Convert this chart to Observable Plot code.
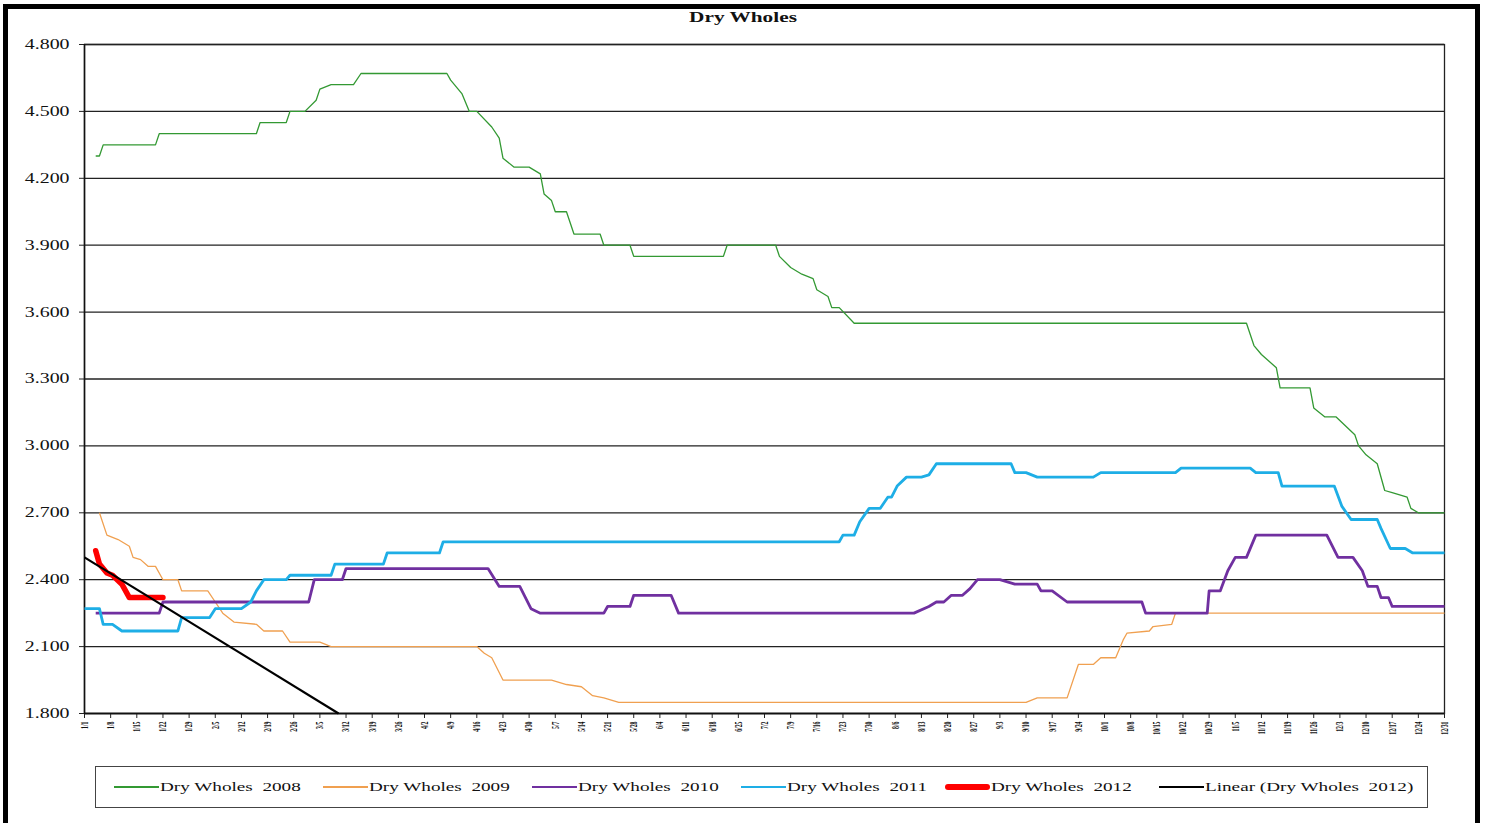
<!DOCTYPE html>
<html>
<head>
<meta charset="utf-8">
<script src="https://cdn.jsdelivr.net/npm/d3@7"></script>
<script src="https://cdn.jsdelivr.net/npm/@observablehq/plot@0.6"></script>
<style>
html,body{margin:0;padding:0;background:#fff;overflow:hidden;width:1486px;height:823px;}
#frame{position:absolute;left:3px;top:4px;width:1467px;height:840px;border:5px solid #000;}
#chart{position:absolute;left:0;top:0;}
#title{position:absolute;left:0;top:9px;width:1486px;text-align:center;font:bold 15px "Liberation Serif",serif;color:#111;}
#title span{display:inline-block;transform:scaleX(1.42);}
#legend{position:absolute;left:95px;top:766px;width:1331px;height:40px;border:1px solid #444;background:#fff;}
.item{position:absolute;top:0;height:40px;display:flex;align-items:center;}
.item .sw{width:45px;}
.item .lb{font:13.5px "Liberation Serif",serif;color:#111;white-space:pre;transform:scaleX(1.42);transform-origin:left center;margin-left:1px;}
</style>
</head>
<body>
<div id="frame"></div>
<div id="chart"></div>
<div id="title"><span>Dry Wholes</span></div>
<div id="legend"></div>
<script>
// ---- data (day of year: 0 = 1/1) ----
const tickLabels = ["1/1","1/8","1/15","1/22","1/29","2/5","2/12","2/19","2/26","3/5","3/12","3/19","3/26","4/2","4/9","4/16","4/23","4/30","5/7","5/14","5/21","5/28","6/4","6/11","6/18","6/25","7/2","7/9","7/16","7/23","7/30","8/6","8/13","8/20","8/27","9/3","9/10","9/17","9/24","10/1","10/8","10/15","10/22","10/29","11/5","11/12","11/19","11/26","12/3","12/10","12/17","12/24","12/31"];
const yTicks = [1.8, 2.1, 2.4, 2.7, 3.0, 3.3, 3.6, 3.9, 4.2, 4.5, 4.8];

const days2008 = [3,4,5,19,20,46,47,54,55,59,62,63,66,72,74,97,98,101,103,105,109,111,112,115,119,122,123,125,126,129,131,138,139,146,147,171,172,185,186,189,192,195,196,199,200,202,206,311,313,315,319,320,328,329,332,335,340,341,343,346,348,350,354,355,357,364];
const values2008 = [4.30,4.30,4.35,4.35,4.40,4.40,4.45,4.45,4.50,4.50,4.55,4.60,4.62,4.62,4.67,4.67,4.64,4.58,4.50,4.50,4.43,4.38,4.29,4.25,4.25,4.22,4.13,4.10,4.05,4.05,3.95,3.95,3.90,3.90,3.85,3.85,3.90,3.90,3.85,3.80,3.77,3.75,3.70,3.67,3.62,3.62,3.55,3.55,3.45,3.41,3.35,3.26,3.26,3.17,3.13,3.13,3.05,3.00,2.96,2.92,2.80,2.79,2.77,2.72,2.70,2.70];

const days2009 = [4,6,9,12,13,15,17,19,21,25,26,33,35,37,40,46,48,53,55,63,66,105,107,109,112,125,129,133,136,139,143,252,255,263,266,270,272,276,278,279,285,286,291,292,364];
const values2009 = [2.70,2.60,2.58,2.55,2.50,2.49,2.46,2.46,2.40,2.40,2.35,2.35,2.30,2.25,2.21,2.20,2.17,2.17,2.12,2.12,2.10,2.10,2.07,2.05,1.95,1.95,1.93,1.92,1.88,1.87,1.85,1.85,1.87,1.87,2.02,2.02,2.05,2.05,2.13,2.16,2.17,2.19,2.20,2.25,2.25];

const days2010 = [3,20,21,60,61.5,69,70,108,111,116.5,119.5,122,139,140,146,147,157,159,222,226,228,230,232,235,237,239,245,249,255,256,259,263,283,284,300.5,301,304,306,308,311,313.5,332.5,335.5,339.5,342,343.5,346,347,349,350,364];
const values2010 = [2.25,2.25,2.30,2.30,2.40,2.40,2.45,2.45,2.37,2.37,2.27,2.25,2.25,2.28,2.28,2.33,2.33,2.25,2.25,2.28,2.30,2.30,2.33,2.33,2.36,2.40,2.40,2.38,2.38,2.35,2.35,2.30,2.30,2.25,2.25,2.35,2.35,2.44,2.50,2.50,2.60,2.60,2.50,2.50,2.44,2.37,2.37,2.32,2.32,2.28,2.28];

const days2011 = [0,4,5,7.5,10,25,26,33.5,35,42,44.5,46,48,54,55,66,67,80,81,95,96,202,203,206,207.5,210,213,215,216,217.5,220,224,226,228,248,249,252,255,270,272,292,293.5,312,313.5,319.5,320.5,334.5,336.5,339,346,347,349.5,353.5,355.5,364];
const values2011 = [2.27,2.27,2.20,2.20,2.17,2.17,2.23,2.23,2.27,2.27,2.30,2.35,2.40,2.40,2.42,2.42,2.47,2.47,2.52,2.52,2.57,2.57,2.60,2.60,2.66,2.72,2.72,2.77,2.77,2.82,2.86,2.86,2.87,2.92,2.92,2.88,2.88,2.86,2.86,2.88,2.88,2.90,2.90,2.88,2.88,2.82,2.82,2.73,2.67,2.67,2.63,2.54,2.54,2.52,2.52];

const days2012 = [3,4,6,7.5,10,12,16,21];
const values2012 = [2.53,2.47,2.43,2.42,2.38,2.32,2.32,2.32];

const trendDays = [0, 68];
const trendValues = [2.50, 1.80];

const seriesNames = ["Dry Wholes  2008","Dry Wholes  2009","Dry Wholes  2010","Dry Wholes  2011","Dry Wholes  2012","Linear (Dry Wholes  2012)"];
const seriesColors = ["#339933","#f0a050","#7030a0","#1eaee6","#ff0000","#000000"];
const seriesWidths = [1.3,1.3,2.8,2.8,5.5,2.2];

// ---- build ----
const rows = (days, vals) => days.map((d, i) => ({day: d, value: vals[i]}));
const seriesData = [
  rows(days2008, values2008),
  rows(days2009, values2009),
  rows(days2010, values2010),
  rows(days2011, values2011),
  rows(days2012, values2012),
  rows(trendDays, trendValues)
];
const tickDays = tickLabels.map((_, i) => i * 7);
const labelByDay = new Map(tickDays.map((d, i) => [d, tickLabels[i]]));

const chart = Plot.plot({
  width: 1486,
  height: 760,
  marginLeft: 84,
  marginRight: 42,
  marginTop: 44,
  marginBottom: 47,
  style: {fontFamily: "'Liberation Serif', serif", background: "transparent", color: "#111"},
  x: {domain: [0, 364], label: null},
  y: {domain: [1.8, 4.8], label: null},
  marks: [
    Plot.gridY(yTicks, {stroke: "#222", strokeOpacity: 1, strokeWidth: 1.3}),
    Plot.frame({stroke: "#222", strokeWidth: 1.3}),
    Plot.axisY(yTicks, {tickFormat: d3.format(".3f"), tickSize: 5, tickPadding: 10, fontSize: 14, stroke: "#222", label: null}),
    Plot.axisX(tickDays, {tickFormat: d => labelByDay.get(d), tickRotate: -90, tickSize: 5, tickPadding: 3, fontSize: 10.5, fontWeight: "bold", stroke: "#222", label: null}),
    Plot.ruleY([1.8], {stroke: "#111", strokeWidth: 1.5}),
    Plot.ruleX([0], {stroke: "#111", strokeWidth: 1.5}),
    ...seriesData.map((data, i) => Plot.line(data, {
      x: "day", y: "value",
      stroke: seriesColors[i],
      strokeWidth: seriesWidths[i],
      strokeLinejoin: "round",
      strokeLinecap: i === 4 ? "round" : "butt"
    }))
  ]
});
document.getElementById("chart").append(chart);

// horizontally stretch tick label glyphs like the reference
chart.querySelectorAll('g[aria-label="y-axis tick label"] text').forEach(t => {
  const L = t.getComputedTextLength();
  t.setAttribute("textLength", L * 1.42);
  t.setAttribute("lengthAdjust", "spacingAndGlyphs");
});
chart.querySelectorAll('g[aria-label="x-axis tick label"] text').forEach(t => {
  const L = t.getComputedTextLength();
  t.setAttribute("textLength", L * 0.55);
  t.setAttribute("lengthAdjust", "spacingAndGlyphs");
});

// legend
const legendX = [18, 227, 436, 645, 849, 1063];
const legend = document.getElementById("legend");
seriesNames.forEach((name, i) => {
  const item = document.createElement("div");
  item.className = "item";
  item.style.left = legendX[i] + "px";
  const sw = document.createElement("div");
  sw.className = "sw";
  sw.style.height = Math.max(1.3, seriesWidths[i]) + "px";
  sw.style.background = seriesColors[i];
  if (i === 4) sw.style.borderRadius = "3px";
  const lb = document.createElement("span");
  lb.className = "lb";
  lb.textContent = name;
  item.append(sw, lb);
  legend.append(item);
});
</script>
</body>
</html>
